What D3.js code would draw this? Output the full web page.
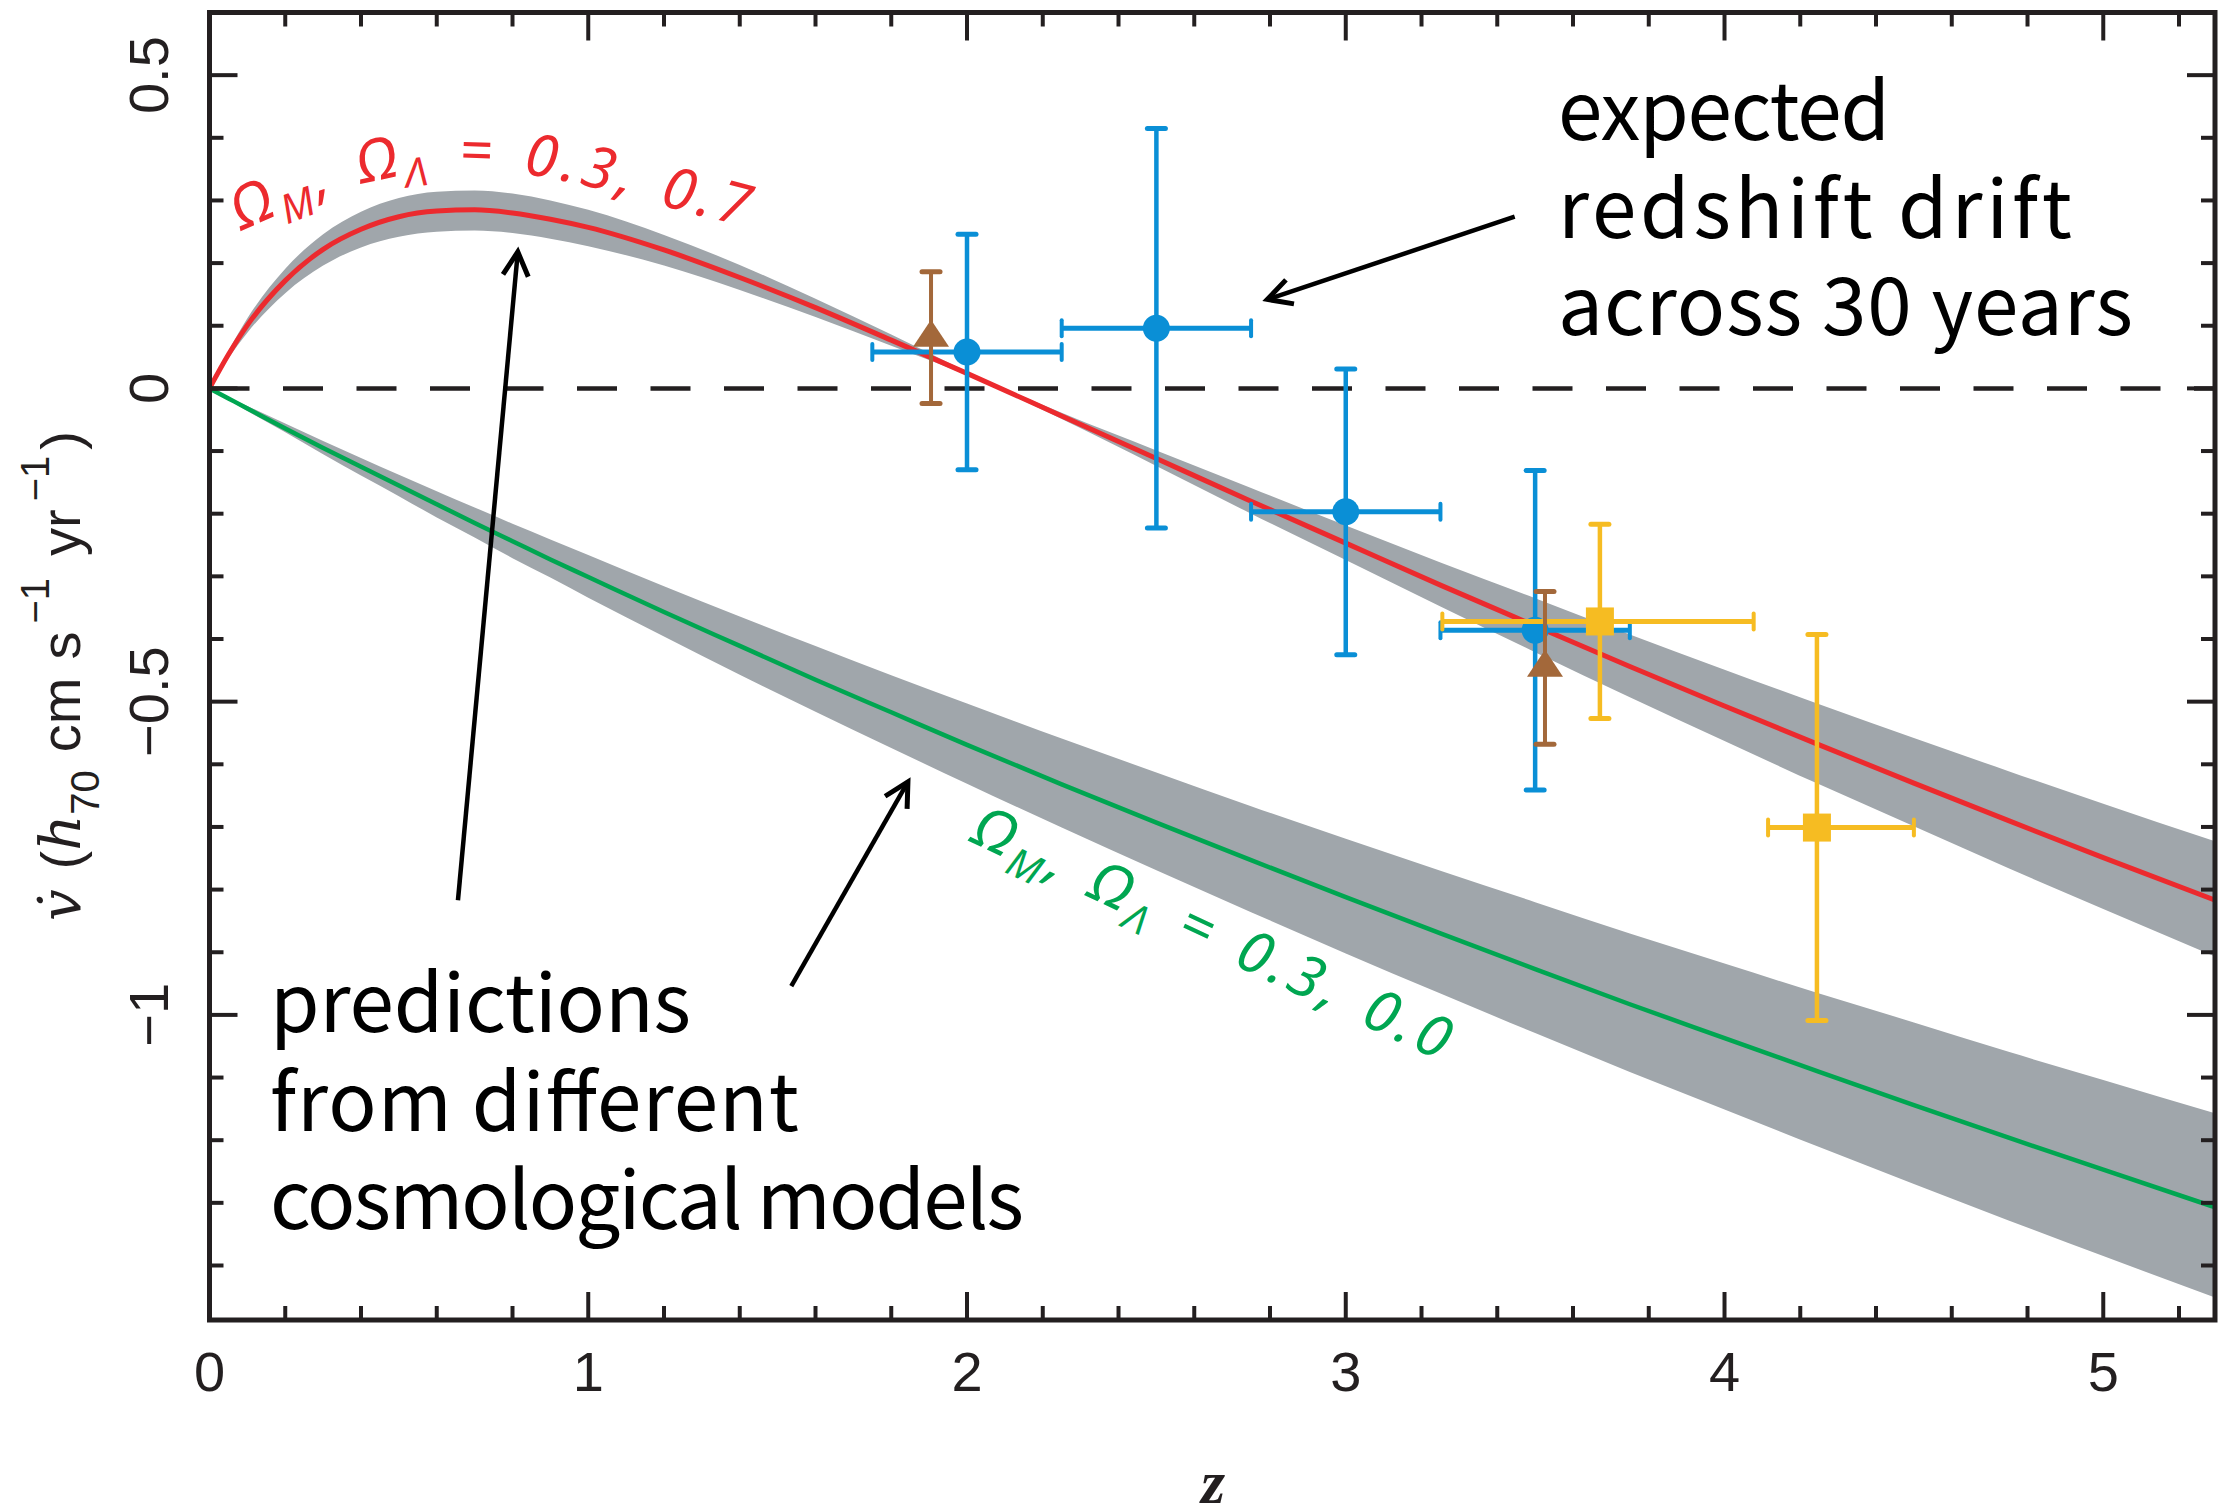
<!DOCTYPE html>
<html>
<head>
<meta charset="utf-8">
<script src="https://cdn.jsdelivr.net/npm/d3@7"></script>
<style>
html,body{margin:0;padding:0;background:#ffffff;}
svg{display:block;}
</style>
</head>
<body>
<svg id="chart" width="2224" height="1510"></svg>
<script>
// ---------------- DATA ----------------
const zCurve = [0,0.05,0.1,0.2,0.3,0.4,0.5,0.6,0.7,0.8,0.9,1.0,1.2,1.4,1.6,1.8,2.0,2.25,2.5,2.75,3.0,3.25,3.5,3.75,4.0,4.25,4.5,4.75,5.0,5.3];
// Omega_M, Omega_L = 0.3, 0.7
const lcdmV  = [0,0.054,0.101,0.172,0.222,0.254,0.274,0.283,0.285,0.280,0.270,0.257,0.221,0.177,0.129,0.077,0.024,-0.044,-0.112,-0.180,-0.247,-0.314,-0.379,-0.444,-0.507,-0.569,-0.630,-0.690,-0.749,-0.818];
const lcdmLo = [0,0.048,0.089,0.152,0.196,0.225,0.242,0.250,0.252,0.248,0.239,0.227,0.196,0.157,0.114,0.068,0.021,-0.049,-0.124,-0.200,-0.274,-0.348,-0.421,-0.493,-0.563,-0.632,-0.699,-0.766,-0.831,-0.908];
const lcdmHi = [0,0.060,0.112,0.191,0.246,0.282,0.304,0.314,0.316,0.311,0.300,0.285,0.245,0.197,0.143,0.086,0.027,-0.039,-0.099,-0.159,-0.219,-0.278,-0.335,-0.393,-0.449,-0.504,-0.558,-0.611,-0.663,-0.724];
// Omega_M, Omega_L = 0.3, 0.0
const openV  = [0,-0.016,-0.032,-0.064,-0.095,-0.125,-0.155,-0.185,-0.215,-0.244,-0.273,-0.301,-0.357,-0.411,-0.465,-0.517,-0.569,-0.632,-0.693,-0.753,-0.812,-0.870,-0.927,-0.983,-1.037,-1.091,-1.144,-1.196,-1.247,-1.308];
const openLo = [0,-0.018,-0.036,-0.070,-0.105,-0.139,-0.172,-0.206,-0.238,-0.271,-0.302,-0.334,-0.396,-0.457,-0.516,-0.574,-0.631,-0.701,-0.769,-0.836,-0.902,-0.966,-1.029,-1.091,-1.151,-1.211,-1.270,-1.328,-1.385,-1.452];
const openHi = [0,-0.014,-0.028,-0.056,-0.084,-0.111,-0.138,-0.164,-0.190,-0.216,-0.241,-0.266,-0.316,-0.364,-0.411,-0.458,-0.503,-0.559,-0.613,-0.667,-0.719,-0.770,-0.820,-0.870,-0.918,-0.966,-1.012,-1.059,-1.104,-1.158];

// simulated measurements (blue circles)
const blueZ    = [2.0, 2.5, 3.0, 3.5];
const blueV    = [0.058, 0.096, -0.197, -0.386];
const blueVerr = [0.188, 0.319, 0.228, 0.255];
const blueZlo  = [0.25, 0.25, 0.25, 0.25];
const blueZhi  = [0.25, 0.25, 0.25, 0.25];
// brown triangles
const brownZ    = [1.905, 3.526];
const brownV    = [0.081, -0.446];
const brownVerr = [0.105, 0.122];
// yellow squares
const yellowZ    = [3.671, 4.244];
const yellowV    = [-0.372, -0.701];
const yellowVerr = [0.155, 0.308];
const yellowZlo  = [0.416, 0.129];
const yellowZhi  = [0.406, 0.256];

const xMajor = [0,1,2,3,4,5];
const xMajorLabels = ["0","1","2","3","4","5"];
const yMajor = [-1,-0.5,0,0.5];
const yMajorLabels = ["\u22121","\u22120.5","0","0.5"];

// ---------------- SETUP ----------------
const L = 209.5, R = 2215, T = 12.5, B = 1320;
const svg = d3.select("#chart");
const x = d3.scaleLinear().domain([0, 5.295]).range([L, R]);
const y = d3.scaleLinear().domain([-1.487, 0.6]).range([B, T]);

const INK = "#231f20";
const C_RED = "#ec2a2e", C_GREEN = "#00a651", C_BAND = "#a0a6ab";
const C_BLUE = "#0a8fd6", C_BROWN = "#a3683a", C_YELLOW = "#f6bc22";

const defs = svg.append("defs");
defs.append("clipPath").attr("id","plotclip")
  .append("rect").attr("x",L).attr("y",T).attr("width",R-L).attr("height",B-T);

const plot = svg.append("g").attr("clip-path","url(#plotclip)");

function idx(arr){ return arr.map((d,i)=>i); }
const band = (lo,hi) => d3.area().curve(d3.curveMonotoneX)
  .x(i=>x(zCurve[i])).y0(i=>y(lo[i])).y1(i=>y(hi[i]));
const line = (v) => d3.line().curve(d3.curveMonotoneX)
  .x(i=>x(zCurve[i])).y(i=>y(v[i]));

plot.append("path").attr("d", band(openLo,openHi)(idx(zCurve))).attr("fill",C_BAND);
plot.append("path").attr("d", band(lcdmLo,lcdmHi)(idx(zCurve))).attr("fill",C_BAND);
plot.append("path").attr("d", line(openV)(idx(zCurve))).attr("fill","none").attr("stroke",C_GREEN).attr("stroke-width",4.5);
plot.append("path").attr("d", line(lcdmV)(idx(zCurve))).attr("fill","none").attr("stroke",C_RED).attr("stroke-width",5);

// zero dashed line
plot.append("line").attr("x1",x(0)).attr("x2",R).attr("y1",y(0)).attr("y2",y(0))
  .attr("stroke",INK).attr("stroke-width",4.5).attr("stroke-dasharray","40 33.5");

// ---------------- ERROR BARS / MARKERS ----------------
function errorBars(g, zs, vs, verr, zlo, zhi, color, vw, hw, marker){
  zs.forEach((z,i)=>{
    const cx = x(z), cy = y(vs[i]);
    const y1 = y(vs[i]+verr[i]), y2 = y(vs[i]-verr[i]);
    g.append("line").attr("x1",cx).attr("x2",cx).attr("y1",y1).attr("y2",y2)
      .attr("stroke",color).attr("stroke-width",vw);
    [y1,y2].forEach(yy=>g.append("line").attr("x1",cx-9).attr("x2",cx+9).attr("y1",yy).attr("y2",yy)
      .attr("stroke",color).attr("stroke-width",5).attr("stroke-linecap","round"));
    if (zlo){
      const x1 = x(z - zlo[i]), x2 = x(z + zhi[i]);
      g.append("line").attr("x1",x1).attr("x2",x2).attr("y1",cy).attr("y2",cy)
        .attr("stroke",color).attr("stroke-width",hw);
      [x1,x2].forEach(xx=>g.append("line").attr("x1",xx).attr("x2",xx).attr("y1",cy-8).attr("y2",cy+8)
        .attr("stroke",color).attr("stroke-width",4).attr("stroke-linecap","round"));
    }
    marker(g, cx, cy);
  });
}
const gPts = svg.append("g");
errorBars(gPts, blueZ, blueV, blueVerr, blueZlo, blueZhi, C_BLUE, 4.5, 5,
  (g,cx,cy)=>g.append("circle").attr("cx",cx).attr("cy",cy).attr("r",13.5).attr("fill",C_BLUE));
errorBars(gPts, yellowZ, yellowV, yellowVerr, yellowZlo, yellowZhi, C_YELLOW, 4.5, 5,
  (g,cx,cy)=>g.append("rect").attr("x",cx-14).attr("y",cy-14).attr("width",28).attr("height",28).attr("fill",C_YELLOW));
errorBars(gPts, brownZ, brownV, brownVerr, null, null, C_BROWN, 4, 4,
  (g,cx,cy)=>g.append("path").attr("d",`M${cx},${cy-18}L${cx+18},${cy+9}L${cx-18},${cy+9}Z`).attr("fill",C_BROWN));

// ---------------- ANNOTATIONS ----------------
const annFont = "'Noto Sans CJK JP', 'Noto Sans', sans-serif";
function multiLine(lines, widths, x0, y0, dy){
  lines.forEach((s,i)=>svg.append("text").attr("font-family",annFont).attr("font-size",80).attr("fill","#000")
    .attr("x",x0).attr("y",y0+i*dy).attr("textLength",widths[i]).attr("lengthAdjust","spacing").text(s));
}
multiLine(["expected","redshift drift","across 30 years"], [332,514,575], 1558, 140, 97.5);
multiLine(["predictions","from different","cosmological models"], [421,529,754], 270, 1032, 98.5);

function arrow(z0,v0,z1,v1){
  const ax = x(z0), ay = y(v0), bx = x(z1), by = y(v1);
  const ang = Math.atan2(ay-by, ax-bx);
  const len = 27, ha = 28*Math.PI/180;
  const p1 = [bx+len*Math.cos(ang+ha), by+len*Math.sin(ang+ha)];
  const p2 = [bx+len*Math.cos(ang-ha), by+len*Math.sin(ang-ha)];
  svg.append("line").attr("x1",ax).attr("y1",ay).attr("x2",bx).attr("y2",by)
    .attr("stroke","#000").attr("stroke-width",4.5);
  svg.append("path").attr("d",`M${p1[0]},${p1[1]}L${bx},${by}L${p2[0]},${p2[1]}`)
    .attr("fill","none").attr("stroke","#000").attr("stroke-width",5).attr("stroke-linejoin","miter");
}
arrow(3.446, 0.274, 2.793, 0.142);
arrow(0.656, -0.817, 0.814, 0.218);
arrow(1.536, -0.954, 1.844, -0.628);

// curve labels
const labFont = "'Noto Sans', 'DejaVu Sans', sans-serif";
const redPathPts = [[0.086,0.252],[0.239,0.292],[0.397,0.325],[0.608,0.347],[0.846,0.341],[1.057,0.314],[1.242,0.284],[1.427,0.255],[1.6,0.22]];
defs.append("path").attr("id","redLabelPath")
  .attr("d", d3.line().curve(d3.curveCatmullRom).x(d=>x(d[0])).y(d=>y(d[1]))(redPathPts));
function omegaLabel(sel, values){
  sel.append("tspan").text("\u03A9");
  sel.append("tspan").attr("dy",13).attr("font-size",40).text("M");
  sel.append("tspan").attr("dy",-13).text(", \u03A9");
  sel.append("tspan").attr("dy",13).attr("font-size",40).text("\u039B");
  sel.append("tspan").attr("dy",-13).text(" = " + values);
}
const redText = svg.append("text").attr("font-family",labFont).attr("font-style","italic")
  .attr("font-size",58).attr("fill",C_RED).attr("letter-spacing",5).attr("word-spacing",6);
omegaLabel(redText.append("textPath").attr("href","#redLabelPath").attr("startOffset",0), "0.3, 0.7");

const gx0 = x(2.005), gy0 = y(-0.723);
const greenText = svg.append("text").attr("font-family",labFont).attr("font-style","italic")
  .attr("font-size",58).attr("fill",C_GREEN).attr("letter-spacing",5).attr("word-spacing",6)
  .attr("transform",`translate(${gx0},${gy0}) rotate(25)`);
omegaLabel(greenText, "0.3, 0.0");

// ---------------- AXES ----------------
const xMinor = d3.range(0, 5.3, 0.2).filter(v=>Math.abs(v-Math.round(v))>1e-6);
const yMinor = d3.range(-1.4, 0.55, 0.1).filter(v=>Math.abs(v*2-Math.round(v*2))>1e-6);
const gAx = svg.append("g").attr("stroke",INK);
function ticksX(vals, len){
  vals.forEach(v=>{
    gAx.append("line").attr("x1",x(v)).attr("x2",x(v)).attr("y1",B).attr("y2",B-len).attr("stroke-width",4);
    gAx.append("line").attr("x1",x(v)).attr("x2",x(v)).attr("y1",T).attr("y2",T+len).attr("stroke-width",4);
  });
}
function ticksY(vals, len){
  vals.forEach(v=>{
    gAx.append("line").attr("y1",y(v)).attr("y2",y(v)).attr("x1",L).attr("x2",L+len).attr("stroke-width",4);
    gAx.append("line").attr("y1",y(v)).attr("y2",y(v)).attr("x1",R).attr("x2",R-len).attr("stroke-width",4);
  });
}
ticksX(xMinor, 14); ticksX(xMajor.filter(v=>v>0), 28);
ticksY(yMinor, 14); ticksY(yMajor, 28);
gAx.append("rect").attr("x",L).attr("y",T).attr("width",R-L).attr("height",B-T)
  .attr("fill","none").attr("stroke-width",5);

const tickFont = "'Liberation Sans', Arial, Helvetica, sans-serif";
xMajor.forEach((v,i)=>svg.append("text").attr("x",x(v)).attr("y",1391).attr("text-anchor","middle")
  .attr("font-family",tickFont).attr("font-size",56).attr("fill",INK).text(xMajorLabels[i]));
yMajor.forEach((v,i)=>svg.append("text").attr("transform",`translate(168,${y(v)}) rotate(-90)`)
  .attr("text-anchor","middle").attr("font-family",tickFont).attr("font-size",56).attr("fill",INK).text(yMajorLabels[i]));

// axis titles
svg.append("text").attr("x",1213).attr("y",1503).attr("text-anchor","middle")
  .attr("font-family","'Liberation Serif','DejaVu Serif',serif").attr("font-style","italic").attr("font-weight","bold")
  .attr("font-size",62).attr("fill",INK).text("z");

const yl = svg.append("text").attr("transform","translate(80,676) rotate(-90)").attr("text-anchor","middle")
  .attr("font-family",tickFont).attr("font-size",56).attr("fill",INK);
yl.append("tspan").attr("font-family","'DejaVu Serif',serif").attr("font-style","italic").text("v\u0307");
yl.append("tspan").attr("dx",20).text("(");
yl.append("tspan").attr("font-family","'DejaVu Serif',serif").attr("font-style","italic").text("h");
yl.append("tspan").attr("dy",19).attr("font-size",40).text("70");
yl.append("tspan").attr("dy",-19).attr("dx",18).text("cm");
yl.append("tspan").attr("dx",18).text("s");
yl.append("tspan").attr("dy",-31).attr("dx",8).attr("font-size",40).text("\u22121");
yl.append("tspan").attr("dy",31).attr("dx",22).text("yr");
yl.append("tspan").attr("dy",-31).attr("dx",8).attr("font-size",40).text("\u22121");
yl.append("tspan").attr("dy",31).attr("dx",6).text(")");
</script>
</body>
</html>
